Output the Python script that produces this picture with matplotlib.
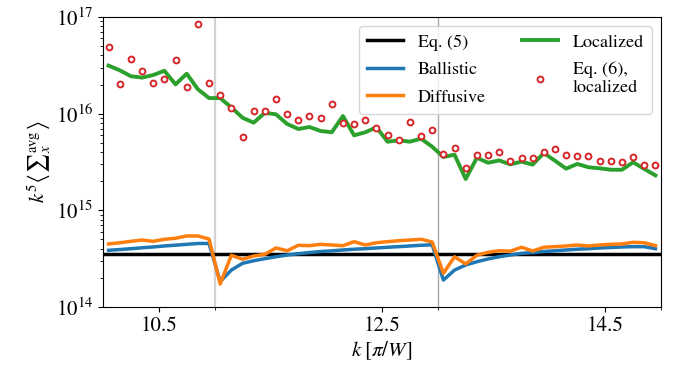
import matplotlib
matplotlib.use("Agg")
import matplotlib.pyplot as plt
from matplotlib.ticker import FixedLocator, NullFormatter

plt.rcParams['font.family'] = ['STIXGeneral', 'DejaVu Serif']
plt.rcParams['mathtext.fontset'] = 'stix'

k = [10.05, 10.15, 10.25, 10.35, 10.45, 10.55, 10.65, 10.75, 10.85, 10.95,
     11.05, 11.15, 11.25, 11.35, 11.45, 11.55, 11.65, 11.75, 11.85, 11.95,
     12.05, 12.15, 12.25, 12.35, 12.45, 12.55, 12.65, 12.75, 12.85, 12.95,
     13.05, 13.15, 13.25, 13.35, 13.45, 13.55, 13.65, 13.75, 13.85, 13.95,
     14.05, 14.15, 14.25, 14.35, 14.45, 14.55, 14.65, 14.75, 14.85, 14.95]

eq5_value = 3.54e14

ballistic = [3.86e14, 3.93e14, 4.01e14, 4.10e14, 4.18e14, 4.28e14, 4.36e14, 4.45e14, 4.54e14, 4.54e14,
             1.83e14, 2.41e14, 2.83e14, 3.01e14, 3.16e14, 3.31e14, 3.45e14, 3.56e14, 3.66e14, 3.75e14,
             3.81e14, 3.89e14, 3.96e14, 4.01e14, 4.08e14, 4.15e14, 4.21e14, 4.28e14, 4.35e14, 4.40e14,
             1.90e14, 2.41e14, 2.72e14, 2.94e14, 3.14e14, 3.31e14, 3.45e14, 3.59e14, 3.66e14, 3.75e14,
             3.82e14, 3.89e14, 3.96e14, 4.01e14, 4.08e14, 4.13e14, 4.18e14, 4.21e14, 4.21e14, 4.01e14]

diffusive = [4.49e14, 4.62e14, 4.78e14, 4.93e14, 4.78e14, 5.02e14, 5.14e14, 5.43e14, 5.43e14, 5.05e14,
             1.73e14, 3.43e14, 3.12e14, 3.37e14, 3.51e14, 4.08e14, 3.82e14, 4.35e14, 4.31e14, 4.45e14,
             4.38e14, 4.31e14, 4.74e14, 4.38e14, 4.62e14, 4.74e14, 4.85e14, 4.93e14, 5.02e14, 4.70e14,
             2.23e14, 3.31e14, 2.79e14, 3.43e14, 3.68e14, 3.82e14, 3.78e14, 4.15e14, 3.80e14, 4.15e14,
             4.21e14, 4.28e14, 4.38e14, 4.28e14, 4.38e14, 4.45e14, 4.49e14, 4.67e14, 4.62e14, 4.31e14]

localized = [3.14e16, 2.81e16, 2.44e16, 2.36e16, 2.51e16, 2.78e16, 2.01e16, 2.59e16, 1.79e16, 1.45e16,
             1.45e16, 1.16e16, 9.08e15, 8.07e15, 1.02e16, 9.85e15, 7.82e15, 6.94e15, 7.28e15, 6.62e15,
             6.42e15, 9.46e15, 5.97e15, 6.42e15, 7.23e15, 5.13e15, 5.30e15, 5.13e15, 5.51e15, 4.55e15,
             3.56e15, 3.76e15, 2.11e15, 3.50e15, 3.11e15, 3.28e15, 2.99e15, 3.19e15, 2.97e15, 3.92e15,
             3.26e15, 2.70e15, 3.02e15, 2.79e15, 2.72e15, 2.63e15, 2.63e15, 3.14e15, 2.68e15, 2.30e15]

eq6_localized = [4.89e16, 2.03e16, 3.70e16, 2.76e16, 2.06e16, 2.30e16, 3.57e16, 1.89e16, 8.40e16, 2.09e16,
                 1.55e16, 1.15e16, 5.67e15, 1.07e16, 1.06e16, 1.43e16, 9.85e15, 8.50e15, 9.39e15, 9.08e15,
                 1.25e16, 7.95e15, 7.76e15, 8.54e15, 7.06e15, 6.02e15, 5.34e15, 8.26e15, 5.92e15, 6.73e15,
                 3.85e15, 4.45e15, 2.74e15, 3.74e15, 3.76e15, 4.01e15, 3.22e15, 3.48e15, 3.45e15, 3.98e15,
                 4.34e15, 3.74e15, 3.65e15, 3.62e15, 3.22e15, 3.24e15, 3.16e15, 3.59e15, 2.97e15, 2.97e15]

vlines_k = [11.0, 13.0]
vline_colors = ['#d3d3d3', '#a9a9a9']
vline_widths = [1.6, 1.0]
xticks_major = [10.5, 12.5, 14.5]
xticks_minor = [11.0, 13.0, 15.0]
xlim = (10.0, 15.0)
ylim = (1e14, 1e17)

fig = plt.figure(figsize=(6.77, 3.74), dpi=100)
ax = fig.add_axes([103/677, 1-307/374, (661-103)/677, (307-17)/374])

for xv, c, w in zip(vlines_k, vline_colors, vline_widths):
    ax.axvline(xv, color=c, lw=w, zorder=0)

ax.plot([xlim[0], xlim[1]], [eq5_value, eq5_value], color='black', lw=2.5, label='Eq. (5)')
ax.plot(k, ballistic, color='#1f77b4', lw=2.5, label='Ballistic')
ax.plot(k, diffusive, color='#ff7f0e', lw=2.5, label='Diffusive')
ax.plot(k, localized, color='#2ca02c', lw=2.8, label='Localized')
ax.plot(k, eq6_localized, linestyle='none', marker='o', ms=4.2, mew=1.4,
        mfc='white', mec='#d62728', label='Eq. (6),\nlocalized')

ax.set_yscale('log')
ax.set_xlim(*xlim)
ax.set_ylim(*ylim)
ax.xaxis.set_major_locator(FixedLocator(xticks_major))
ax.xaxis.set_minor_locator(FixedLocator(xticks_minor))
ax.xaxis.set_minor_formatter(NullFormatter())
ax.set_xticklabels(['10.5', '12.5', '14.5'])
ax.tick_params(axis='both', which='major', labelsize=15)

ax.set_xlabel(r'$k\;[\pi/W]$', fontsize=15, labelpad=2)
ax.set_ylabel(r'$k^5\left\langle {\sum}_x^{\mathrm{avg}} \right\rangle$', fontsize=15, labelpad=2)

ax.legend(ncol=2, loc='upper right', fontsize=13, handlelength=2.0,
          labelspacing=0.6, borderpad=0.45, framealpha=0.8)

fig.savefig('out.png', dpi=100)
